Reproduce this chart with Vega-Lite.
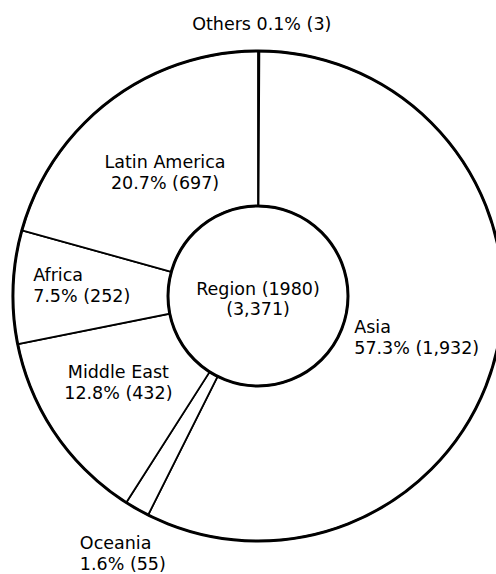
{
  "$schema": "https://vega.github.io/schema/vega-lite/v6.json",
  "width": 476,
  "height": 556,
  "autosize": {"type": "none"},
  "padding": {"left": 20, "top": 18, "right": 0, "bottom": 0},
  "background": "white",
  "config": {"view": {"stroke": null}, "font": "DejaVu Sans"},
  "data": {
    "values": [
      {"region": "Others", "value": 3, "rank": 1, "label": "Others  0.1% (3)"},
      {"region": "Asia", "value": 1932, "rank": 2, "label": "Asia\n57.3% (1,932)"},
      {"region": "Oceania", "value": 55, "rank": 3, "label": "Oceania\n1.6% (55)"},
      {"region": "Middle East", "value": 432, "rank": 4, "label": "Middle East\n12.8% (432)"},
      {"region": "Africa", "value": 252, "rank": 5, "label": "Africa\n7.5% (252)"},
      {"region": "Latin America", "value": 697, "rank": 6, "label": "Latin America\n20.7% (697)"}
    ]
  },
  "transform": [
    {"stack": "value", "groupby": [], "sort": [{"field": "rank", "order": "ascending"}], "as": ["v0", "v1"]},
    {"joinaggregate": [{"op": "sum", "field": "value", "as": "total"}]},
    {"calculate": "(datum.v0 + datum.v1) / 2 / datum.total * 2 * PI", "as": "ang"}
  ],
  "layer": [
    {
      "mark": {"type": "arc", "radius": 245, "radius2": 90, "fill": "white", "stroke": "black", "strokeWidth": 1.8},
      "encoding": {
        "theta": {"field": "value", "type": "quantitative", "stack": true},
        "order": {"field": "rank", "type": "quantitative"}
      }
    },
    {
      "data": {"values": [{}]},
      "mark": {"type": "arc", "radius": 245, "radius2": 90, "theta": 0, "theta2": 6.2832, "fill": null, "stroke": "black", "strokeWidth": 3},
      "encoding": {}
    },
    {
      "transform": [{"filter": "datum.region === 'Others'"}],
      "mark": {"type": "text", "radius": 273, "dx": 3, "dy": 2, "align": "center", "baseline": "middle", "fontSize": 17.5, "lineHeight": 21, "lineBreak": "\n", "color": "black"},
      "encoding": {"theta": {"field": "ang", "type": "quantitative", "scale": null, "stack": null}, "text": {"field": "label"}}
    },
    {
      "transform": [{"filter": "datum.region === 'Asia'"}],
      "mark": {"type": "text", "radius": 99, "dy": 9, "align": "left", "baseline": "middle", "fontSize": 17.5, "lineHeight": 21, "lineBreak": "\n", "color": "black"},
      "encoding": {"theta": {"field": "ang", "type": "quantitative", "scale": null, "stack": null}, "text": {"field": "label"}}
    },
    {
      "transform": [{"filter": "datum.region === 'Oceania'"}],
      "mark": {"type": "text", "radius": 294, "dx": -33, "dy": -8, "align": "left", "baseline": "middle", "fontSize": 17.5, "lineHeight": 21, "lineBreak": "\n", "color": "black"},
      "encoding": {"theta": {"field": "ang", "type": "quantitative", "scale": null, "stack": null}, "text": {"field": "label"}}
    },
    {
      "transform": [{"filter": "datum.region === 'Middle East'"}],
      "mark": {"type": "text", "radius": 162, "dx": -6, "dy": -15, "align": "center", "baseline": "middle", "fontSize": 17.5, "lineHeight": 21, "lineBreak": "\n", "color": "black"},
      "encoding": {"theta": {"field": "ang", "type": "quantitative", "scale": null, "stack": null}, "text": {"field": "label"}}
    },
    {
      "transform": [{"filter": "datum.region === 'Africa'"}],
      "mark": {"type": "text", "radius": 225, "dy": -12, "align": "left", "baseline": "middle", "fontSize": 17.5, "lineHeight": 21, "lineBreak": "\n", "color": "black"},
      "encoding": {"theta": {"field": "ang", "type": "quantitative", "scale": null, "stack": null}, "text": {"field": "label"}}
    },
    {
      "transform": [{"filter": "datum.region === 'Latin America'"}],
      "mark": {"type": "text", "radius": 157, "dx": 2, "dy": -8, "align": "center", "baseline": "middle", "fontSize": 17.5, "lineHeight": 21, "lineBreak": "\n", "color": "black"},
      "encoding": {"theta": {"field": "ang", "type": "quantitative", "scale": null, "stack": null}, "text": {"field": "label"}}
    },
    {
      "data": {"values": [{}]},
      "mark": {"type": "text", "text": ["Region (1980)", "(3,371)"], "dy": -6, "align": "center", "baseline": "middle", "fontSize": 17.5, "lineHeight": 20, "color": "black"},
      "encoding": {}
    }
  ]
}
